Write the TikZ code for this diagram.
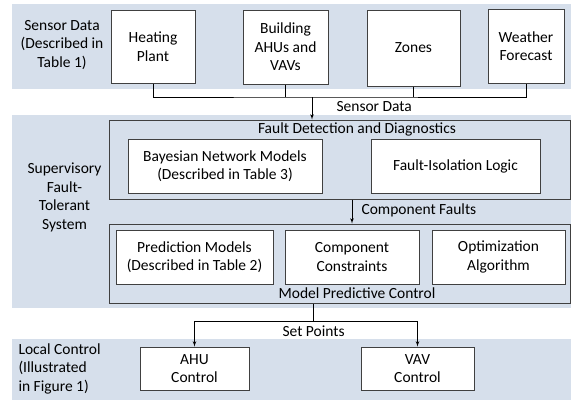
\documentclass[tikz,border=0pt]{standalone}
\usepackage{fontspec}
\setmainfont{Carlito}
\usetikzlibrary{arrows,positioning}
\definecolor{bandblue}{RGB}{214,223,235}
\definecolor{edgegray}{RGB}{64,64,64}
\tikzset{
    %Define standard arrow tip
    >=latex',
    %Define style for the shaded bands
    band/.style={
           fill=bandblue,
           draw=none},
    %Define style for boxes
    punkt/.style={
           rectangle,
           draw=edgegray, line width=1pt,
           fill=white,
           inner sep=0pt,
           align=center},
    %Define style for grouping boxes
    grp/.style={
           rectangle,
           draw=edgegray, line width=1pt,
           inner sep=0pt},
    % Define arrow style
    imply/.style={
           ->,
           line width=0.8pt},
    wire/.style={
           line width=0.8pt},
    sidelabel/.style={
           align=center},
}

\begin{document}
\begin{tikzpicture}[x=1pt, y=-1pt, font=\fontsize{15.5}{18.5}\selectfont]
 \useasboundingbox (0,0) rectangle (571,400);
 %bands
    \fill[band] (12,4) rectangle (571,89);
    \fill[band] (12,115) rectangle (571,308);
    \fill[band] (12,339) rectangle (571,400);
 %side labels
    \node[sidelabel] (sensorside) at (62,45) {Sensor Data\\(Described in\\Table 1)};
    \node[sidelabel] (superside) at (64.5,197.5) {Supervisory\\Fault-\\Tolerant\\System};
    \node[sidelabel, align=left, anchor=west] (localside) at (15,368.5) {Local Control\\(Illustrated\\in Figure 1)};
 %sensor nodes
    \node[punkt, minimum width=84pt, minimum height=73pt] (heat) at (153,46.5) {Heating\\Plant};
    \node[punkt, minimum width=85pt, minimum height=74pt] (bldg) at (285.5,47) {Building\\AHUs and\\VAVs};
    \node[punkt, minimum width=93pt, minimum height=76pt] (zones) at (413.5,48) {Zones};
    \node[punkt, minimum width=76pt, minimum height=74pt] (weather) at (526,46) {Weather\\Forecast};
 %fault detection
    \node[grp, minimum width=461pt, minimum height=79pt] (fdd) at (339.5,159.5) {};
    \node (fddtitle) at (357,129) {Fault Detection and Diagnostics};
    \node[punkt, minimum width=194pt, minimum height=54pt] (bayes) at (225,166) {Bayesian Network Models\\(Described in Table 3)};
    \node[punkt, minimum width=169pt, minimum height=54pt] (isol) at (455.5,166) {Fault-Isolation Logic};
 %model predictive control
    \node[grp, minimum width=461pt, minimum height=79pt] (mpc) at (339.5,263.5) {};
    \node[punkt, minimum width=157pt, minimum height=54pt] (pred) at (194.5,257) {Prediction Models\\(Described in Table 2)};
    \node[punkt, minimum width=134pt, minimum height=54pt] (cons) at (352,257) {Component\\Constraints};
    \node[punkt, minimum width=133pt, minimum height=54pt] (optim) at (498.5,257) {Optimization\\Algorithm};
    \node (mpctitle) at (357,293) {Model Predictive Control};
 %local control
    \node[punkt, minimum width=109pt, minimum height=43pt] (ahu) at (194.5,368.5) {AHU\\Control};
    \node[punkt, minimum width=113pt, minimum height=43pt] (vav) at (417.5,368.5) {VAV\\Control};
 %edges
    \coordinate (bus) at (312,97);
    \draw[wire] (heat.south) |- (bus) -| (weather.south);
    \draw[wire] (bldg.south) -- (bldg.south |- bus);
    \draw[wire] (zones.south) -- (zones.south |- bus);
    \draw[imply] (bus) -- (bus |- fdd.north);
    \node[anchor=west] (sensorlbl) at (333,107) {Sensor Data};
    \draw[imply] (fdd.south -| cons) -- (mpc.north -| cons);
    \node[anchor=west] (faultlbl) at (358,210.5) {Component Faults};
    \coordinate (split) at (313,321);
    \draw[wire] (mpc.south -| split) -- (split);
    \draw[imply] (split) -| (ahu.north);
    \draw[imply] (split) -| (vav.north);
    \node[anchor=west] (setlbl) at (279,331) {Set Points};
\end{tikzpicture}
\end{document}
